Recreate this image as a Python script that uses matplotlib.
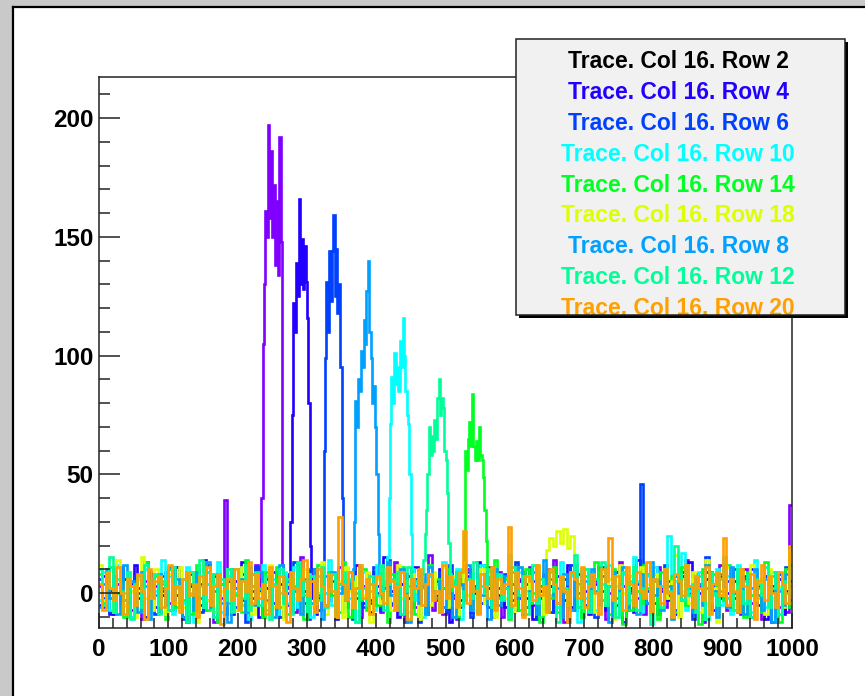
import numpy as np
import matplotlib
matplotlib.use("Agg")
import matplotlib.pyplot as plt
from matplotlib.patches import Rectangle
from matplotlib.ticker import MultipleLocator

W, H = 865, 696
NOISE_BIN = 5   # width of the baseline bins
PULSE_BIN = 2   # finer bins inside the pulse windows

labels = ["Trace. Col 16. Row 2", "Trace. Col 16. Row 4", "Trace. Col 16. Row 6",
          "Trace. Col 16. Row 10", "Trace. Col 16. Row 14", "Trace. Col 16. Row 18",
          "Trace. Col 16. Row 8", "Trace. Col 16. Row 12", "Trace. Col 16. Row 20"]
legend_colors = ["#000000", "#2200ff", "#0040ff", "#00ffff", "#00ff22",
                 "#ddff00", "#00a0ff", "#00ff99", "#ffa000"]
line_colors = ["#8000ff", "#2200ff", "#0040ff", "#00ffff", "#00ff22",
               "#ddff00", "#00a0ff", "#00ff99", "#ffa000"]

noise_row2 = [3, -6, 8, 1, -9, 4, 10, -3, 2, -7, 6, 0, -11, 5, 9, -2, 3, -8, 7, 1,
              -4, 11, -1, 6, -10, 2, 8, -5, 0, 4, -7, 9, 3, -12, 6, -2, 39, 5, -6, 2,
              10, -3, 7, -9, 1, 12, 4, -6, 2, 8, -3, 5, -1, 7, -5, 8, -8, 3, 15, -4,
              -11, 6, 2, -7, 9, 0, -3, 5, -9, 11, 1, -6, 4, 7, -2, -10, 3, 8, -4, 0,
              6, -8, 10, 2, -5, 13, -1, 4, -12, 7, 0, -6, 9, 3, -3, 16, -7, 5, 1, -9,
              4, 8, -2, -11, 6, 0, 10, -4, 3, -8, 12, 1, -6, 5, -1, 9, -10, 2, 7, -3,
              0, 6, -9, 4, 11, -5, 2, -2, 8, -7, 3, 14, -4, 1, -12, 6, 9, -1, -6, 4,
              10, -8, 2, 5, -3, 7, -11, 0, 6, -5, 13, 3, -7, 1, 9, -2, 4, -9, 8, 0,
              -4, 11, 2, -6, 5, -10, 7, 1, -3, 14, 0, -8, 6, 3, -12, 9, -1, 4, -5, 12,
              2, -7, 8, -2, 5, -9, 10, 0, -4, 6, 3, -11, 7, -3, 1, 9, -6, 4, -8, 37]
noise_row4 = [-5, 7, 2, -9, 10, 0, -3, 6, -8, 4, 12, -2, 5, -10, 1, 8, -6, 3, -1, 9,
              -7, 2, 11, -4, 6, -12, 3, 0, 8, -5, 14, -3, 1, -8, 7, 4, -2, 10, -9, 5,
              0, 13, -6, 3, 8, -1, -10, 6, 2, -4, 9, -7, 4, 1, -3, 7, -8, 2, 5, 11,
              -2, 6, -9, 0, 10, -5, 3, 8, -11, 4, -1, 7, 2, -6, 12, 0, -4, 5, -8, 9,
              3, -3, 15, -7, 1, 6, -10, 4, 8, -2, 0, 11, -5, 3, -9, 7, 2, -1, 10, -6,
              5, -12, 4, 9, -3, 1, 7, -8, 0, 13, -4, 6, 2, -10, 8, -1, 3, -6, 11, 0,
              -7, 5, 9, -2, 4, -11, 6, 1, -5, 10, 3, -8, 7, 0, -3, 12, -6, 2, 8, -4,
              1, -9, 6, 4, -2, 11, -7, 3, 0, 9, -5, -12, 5, 2, -8, 14, -1, 6, -4, 3,
              8, -6, 1, 10, -3, 5, -9, 2, 7, -1, 13, -5, 4, 0, -10, 6, 9, -7, 3, -2,
              11, 0, -6, 5, 2, -8, 7, -3, 10, 1, -5, 4, -11, 8, 3, -2, 6, -9, 1, 5]
noise_row6 = [6, -2, 9, -8, 3, 0, 11, -5, 4, -10, 7, 2, -6, 13, -1, 5, -9, 8, 1, -4,
              10, -7, 3, 6, -11, 0, 9, -3, 5, -8, 2, 12, -5, 7, -1, 4, -9, 10, 0, -6,
              3, 8, -12, 5, -2, 11, 1, -7, 6, 9, -4, 2, -10, 7, 0, -3, 13, -6, 4, 1,
              -8, 10, 5, -2, 7, -9, 3, 0, 12, -5, 6, -1, 9, -11, 2, 4, -6, 8, -3, 11,
              0, -7, 5, 14, -4, 1, 7, -9, 3, -2, 10, 6, -12, 4, -5, 8, 0, -3, 9, 2,
              -8, 12, -1, 5, -6, 3, 9, -10, 1, 7, -4, 0, 11, -7, 6, 2, -3, 8, -9, 4,
              13, -2, 1, -6, 10, 5, -11, 3, 0, 7, -8, 9, -4, 2, 6, -1, 12, -7, 4, 0,
              -5, 8, 3, -10, 11, 1, -3, 6, -6, 9, 0, -12, 5, 7, -2, 4, 46, 10, 1, -4,
              6, -9, 3, 12, -1, 5, -7, 0, 9, -3, 2, -11, 8, 4, -6, 15, -2, 3, -9, 7,
              0, 5, -4, 10, -8, 2, 6, -1, -10, 9, 3, -5, 7, 1, -12, 4, 8, -3, 11, -6]
noise_row10 = [-3, 9, 1, -7, 5, 12, -4, 0, 8, -10, 3, 6, -2, 10, -8, 4, 1, -5, 14, -1,
               7, -9, 2, 5, -4, 11, 0, -12, 6, 3, -6, 9, -1, 4, 13, -8, 2, 7, -3, 0,
               10, -5, 5, -11, 8, 1, -2, 12, -7, 3, 6, -9, 0, 9, -4, 2, 11, -6, 4, -1,
               8, -10, 3, 7, -3, 0, 14, -5, 5, 2, -8, 10, -2, 6, -12, 4, 9, -1, 1, -7,
               12, 3, -4, 8, 0, -9, 6, 2, -6, 11, -3, 5, 9, -10, 1, 7, -2, 4, -8, 13,
               0, -5, 6, 10, -11, 3, -1, 8, 2, -7, 12, -4, 5, 0, -9, 7, 3, -2, 16, -6,
               4, 9, -8, 1, 6, -3, 11, -10, 2, 5, -1, 8, -6, 13, 0, -4, 7, 3, -12, 10,
               -2, 6, 1, -7, 9, 4, -5, 12, -1, 3, -9, 8, 0, -3, 15, 5, -8, 2, 7, -4,
               11, -6, 3, 0, 24, 8, 5, -2, 17, -7, 1, 6, -4, 9, -11, 2, 4, -1, 10, -5,
               3, 7, -9, 0, 12, -3, 5, 1, -8, 14, -2, 6, -6, 4, 9, -12, 2, 8, -4, 3]
noise_row14 = [8, -4, 2, 11, -7, 0, 5, -10, 9, 3, -2, 6, -8, 13, 1, -5, 7, -1, 4, -11,
               10, 2, -6, 5, -3, 9, -9, 0, 12, -2, 6, -7, 3, 8, -12, 4, 1, -4, 10, -1,
               5, -8, 14, 0, -5, 7, 2, -10, 9, -3, 4, 11, -6, 1, -9, 6, 3, -2, 8, -11,
               0, 7, -4, 12, 2, -6, 9, -1, 5, -8, 13, 3, -10, 6, 0, -3, 10, -7, 4, 1,
               -5, 9, 2, -12, 8, -2, 5, 11, -6, 3, 0, -9, 7, 4, -4, 12, -1, 6, -8, 2,
               10, -3, 5, -10, 1, 8, 4, -6, 11, 0, -5, 7, 2, -9, 14, -2, 3, 6, -11, 9,
               1, -7, 4, 10, -4, 0, 8, -12, 5, 3, -2, 11, -8, 6, 1, -5, 9, -1, 4, -10,
               7, 2, -6, 13, 0, -3, 5, -9, 10, 3, -1, -13, 6, -7, 8, 1, -4, 12, 2, -6,
               5, -11, 9, 0, -2, 7, -8, 4, 11, -5, 3, -1, 6, -13, 10, 2, -4, 8, -9, 1,
               -3, 12, 0, -7, 6, 4, -10, 9, -1, 5, 2, -8, 13, -4, 7, 0, -12, 3, 10, -6]
noise_row18 = [12, -3, 7, 0, -8, 14, 4, -5, 9, 1, -10, 6, 15, -2, 3, -7, 10, 0, 5, -9,
               8, 2, -4, 11, -6, 3, 9, -1, -12, 6, 13, -3, 4, -8, 7, 1, -5, 10, 2, -7,
               5, 11, -1, 3, -9, 8, 0, 6, -4, 12, -6, 2, 9, -11, 4, 1, -2, 7, -8, 10,
               3, -5, 6, 0, 13, -9, 2, 8, -3, 5, -10, 11, 1, -6, 7, 4, -1, 9, -12, 3,
               6, -4, 10, 2, -7, 0, 12, -2, 5, -8, 8, 1, -11, 6, 3, -5, 9, 0, -3, 11,
               -6, 4, 7, -9, 2, 13, -1, 5, -7, 0, 10, -4, 8, 3, -10, 6, 1, -2, 9, -8,
               4, 11, -5, 0, 7, -3, 12, 2, -9, 18, 23, 20, 26, 21, 27, 19, 24, 8, 3, -6,
               10, -2, 5, -8, 1, 9, -4, 6, -11, 3, 12, 0, -5, 7, 2, -7, 11, -1, 4, -9,
               8, 3, -6, 10, -2, 5, 16, -10, 1, 7, -4, 9, 0, -8, 6, 14, -3, 2, -12, 8,
               -1, 11, 4, -7, 3, 9, -5, 0, 12, -3, 6, 1, -9, 10, -2, 5, 3, -6, 8, 18]
noise_row8 = [-6, 4, 10, -2, 7, -9, 1, 12, -4, 5, 0, -8, 9, 3, -11, 6, -1, 8, 2, -5,
              11, -3, 6, 0, -10, 7, 4, -7, 9, -2, 3, 13, -6, 1, 8, -4, 5, -12, 10, 2,
              -1, 6, -8, 11, 3, -5, 9, 0, -3, 7, -10, 4, 12, -2, 5, -7, 1, 8, -9, 6,
              2, -4, 10, -1, -11, 7, 3, 9, -6, 0, 5, -3, 11, -8, 4, 1, 8, -2, 6, -10,
              9, -5, 2, 13, -1, 4, -7, 10, 0, -12, 6, 3, -4, 8, -9, 11, 1, -2, 5, -6,
              7, 0, -10, 9, 4, -3, 12, -7, 2, 6, -1, 8, -11, 3, 10, -5, 0, 7, -8, 4,
              -2, 11, 5, -6, 1, 9, -9, 3, 14, -4, 6, -1, 2, -10, 8, 4, -7, 12, 0, -3,
              5, -8, 10, 1, -5, 7, 3, -12, 9, -2, 4, 11, -6, 0, 6, -9, 8, 2, -4, 13,
              -1, 5, -7, 9, 3, -11, 7, 0, -3, 10, 2, -8, 6, 4, -5, 12, -2, 1, -10, 8,
              3, -6, 11, 0, -4, 7, -9, 5, 2, 10, -1, -7, 6, 3, -12, 9, 1, -5, 8, -3]
noise_row12 = [10, -5, 3, 15, -8, 6, 1, -3, 9, -11, 4, 7, -6, 12, 0, -2, 8, -9, 5, 2,
               -7, 11, 3, -4, 6, -12, 9, 1, -1, 14, -6, 4, 8, -10, 2, 6, -3, 10, -8, 0,
               5, -2, 12, -7, 3, 9, -5, 1, 7, -11, 4, 0, 10, -4, 6, -9, 2, 13, -1, 5,
               -8, 7, 3, -3, 11, -6, 1, 8, -10, 4, 9, -2, 6, 0, -12, 10, 2, -5, 7, 3,
               -1, 12, -7, 4, 6, -4, 9, -9, 1, 11, -3, 5, 0, -8, 8, 3, -6, 10, 2, -1,
               7, -11, 4, 9, -5, 1, 6, -2, 13, -8, 3, 0, 10, -6, 5, 8, -3, 2, -10, 11,
               4, -1, 7, -9, 0, 12, -4, 6, 3, -7, 9, 1, -12, 5, 2, -3, 8, 16, -6, 4,
               10, -8, 1, 6, -2, 13, -5, 3, 7, -10, 0, 9, -4, 5, 11, -7, 2, -1, 8, -13,
               6, 3, -6, 10, 1, -9, 20, 8, -3, 12, -1, 4, -8, 7, 2, -11, 9, 0, -5, 6,
               15, -2, 3, -7, 10, 1, -4, 8, -10, 6, 4, -1, 11, -6, 2, 9, -9, 5, 0, 12]
noise_row20 = [4, -7, 9, 2, -3, 11, 0, -9, 6, 3, -5, 8, 1, -11, 10, -2, 5, 7, -6, 2,
               12, -4, 3, -8, 6, 9, -1, 4, -10, 7, 0, 11, -5, 3, 8, -13, 2, 6, -3, 10,
               -7, 5, 1, 13, -4, 8, -2, 4, -9, 11, 3, -6, 7, 0, -12, 9, 2, -3, 6, 14,
               -1, 5, -8, 10, 3, -5, 8, 1, -10, 32, 4, -3, 9, -6, 2, 12, -2, 6, -9, 4,
               7, 0, -4, 11, 5, -7, 3, 9, -1, -11, 6, 2, 10, -5, 4, 8, -3, 1, -8, 12,
               -2, 7, 3, -6, 9, 26, -4, 5, 1, -9, 8, 3, -2, 11, -7, 6, 0, 4, 28, -5,
               9, 2, -10, 7, 5, -3, 12, -1, 3, -8, 10, 4, -4, 7, 1, -12, 9, 6, -2, 11,
               -6, 3, 8, 0, -9, 10, 5, 23, -3, 7, 2, -7, 11, 4, -5, 9, 1, -2, 13, -8,
               6, 3, -4, 10, 0, -10, 8, 5, -1, 12, 3, -6, 7, 2, -3, 11, -9, 4, 9, -1,
               23, -5, 6, 1, -8, 10, 3, -2, 8, -11, 5, 12, -3, 7, 0, -6, 9, 4, -4, 20]

# pulses, sampled every PULSE_BIN starting at the given x
pulse_row2_start = 230
pulse_row2 = [3, 6, 40, 105, 130, 161, 150, 197, 158, 186,
              150, 172, 138, 165, 134, 192, 148, 12, 5, -3]
pulse_row4_start = 270
pulse_row4 = [2, 5, 8, 30, 75, 122, 110, 139, 125, 166,
              130, 149, 128, 146, 131, 116, 80, 20, 4, -2]
pulse_row6_start = 320
pulse_row6 = [3, 10, 60, 99, 131, 110, 144, 123, 144, 159,
              125, 145, 118, 130, 95, 40, 8, 2, -4, 5]
pulse_row8_start = 360
pulse_row8 = [2, 4, 6, 10, 30, 81, 70, 90, 85, 102,
              95, 115, 105, 127, 140, 110, 99, 80, 87, 70,
              50, 25, 8, 3, -2]
pulse_row10_start = 410
pulse_row10 = [3, 5, 9, 15, 40, 71, 91, 80, 101, 88,
               95, 85, 106, 95, 116, 100, 85, 75, 71, 50,
               25, 10, 5, 1, -3]
pulse_row12_start = 460
pulse_row12 = [3, 6, 2, 8, 14, 25, 35, 50, 70, 58,
               66, 60, 73, 65, 82, 90, 75, 82, 78, 60,
               56, 42, 21, 8, 3]
pulse_row14_start = 520
pulse_row14 = [5, 2, 10, 25, 60, 52, 65, 72, 62, 84,
               62, 56, 64, 56, 70, 58, 56, 49, 35, 22,
               10, 4, 7, -2, 3]


def build_trace(noise, start=None, pulse=None):
    noise = list(noise)
    if pulse is None:
        return np.arange(len(noise) + 1) * NOISE_BIN, np.array(noise, float)
    stop = start + PULSE_BIN * len(pulse)
    i0, i1 = start // NOISE_BIN, stop // NOISE_BIN
    vals = np.array(noise[:i0] + list(pulse) + noise[i1:], float)
    edges = np.concatenate([np.arange(i0) * NOISE_BIN,
                            start + np.arange(len(pulse)) * PULSE_BIN,
                            stop + np.arange(len(noise) - i1 + 1) * NOISE_BIN])
    return edges, vals


traces = [build_trace(noise_row2, pulse_row2_start, pulse_row2),
          build_trace(noise_row4, pulse_row4_start, pulse_row4),
          build_trace(noise_row6, pulse_row6_start, pulse_row6),
          build_trace(noise_row10, pulse_row10_start, pulse_row10),
          build_trace(noise_row14, pulse_row14_start, pulse_row14),
          build_trace(noise_row18),
          build_trace(noise_row8, pulse_row8_start, pulse_row8),
          build_trace(noise_row12, pulse_row12_start, pulse_row12),
          build_trace(noise_row20)]

plt.rcParams['font.family'] = ['Liberation Sans', 'DejaVu Sans']
plt.rcParams['font.weight'] = 'bold'

fig = plt.figure(figsize=(W / 100, H / 100), dpi=100, facecolor="#c9c9c9")


def fx(px):
    return px / W


def fy(py):
    return 1 - py / H


# white canvas with black border on the left and top
fig.add_artist(Rectangle((fx(14), 0), 1, fy(8), transform=fig.transFigure,
                         facecolor="white", edgecolor="none", zorder=-5))
fig.add_artist(plt.Line2D([fx(13), fx(13)], [0, fy(7)], transform=fig.transFigure,
                          color="black", lw=1.6, zorder=-4))
fig.add_artist(plt.Line2D([fx(13), 1], [fy(7), fy(7)], transform=fig.transFigure,
                          color="black", lw=1.6, zorder=-4))

ax = fig.add_axes([fx(99), fy(628), fx(792) - fx(99), fy(77) - fy(628)])
ax.set_facecolor("white")

for (edges, vals), c in zip(traces, line_colors):
    ax.stairs(vals, edges, color=c, lw=1.9, baseline=None)

ax.set_xlim(0, 1000)
ax.set_ylim(-14.7, 217.3)
ax.xaxis.set_major_locator(MultipleLocator(100))
ax.xaxis.set_minor_locator(MultipleLocator(20))
ax.yaxis.set_major_locator(MultipleLocator(50))
ax.yaxis.set_minor_locator(MultipleLocator(10))
ax.tick_params(axis="both", which="both", direction="in", width=1.1, color="#222222",
               labelsize=17.5, top=False, right=False)
ax.tick_params(axis="y", which="major", length=15, pad=4)
ax.tick_params(axis="y", which="minor", length=8)
ax.tick_params(axis="x", which="major", length=11, pad=7)
ax.tick_params(axis="x", which="minor", length=7)
for lab in ax.get_xticklabels() + ax.get_yticklabels():
    lab.set_fontweight("bold")
for sp in ax.spines.values():
    sp.set_linewidth(1.1)
    sp.set_color("#222222")
    sp.set_zorder(5)

# legend box drawn by hand (ROOT style, with shadow)
bx0, by0, bx1, by1 = 516, 39, 845, 315
fig.add_artist(Rectangle((fx(bx0 + 3), fy(by1 + 3)), fx(bx1 - bx0), (by1 - by0) / H,
                         transform=fig.transFigure, facecolor="black",
                         edgecolor="none", zorder=2))
fig.add_artist(Rectangle((fx(bx0), fy(by1)), fx(bx1 - bx0), (by1 - by0) / H,
                         transform=fig.transFigure, facecolor="#f1f1f1",
                         edgecolor="none", zorder=2.5))
for k, (lab, c) in enumerate(zip(labels, legend_colors)):
    fig.text(fx(678), fy(68.5 + 30.8 * k), lab, color=c, fontsize=16.5,
             fontweight="bold", ha="center", va="baseline", zorder=3)
fig.add_artist(Rectangle((fx(bx0), fy(by1)), fx(bx1 - bx0), (by1 - by0) / H,
                         transform=fig.transFigure, facecolor="none",
                         edgecolor="#222222", lw=1.1, zorder=4))

fig.savefig("out.png", dpi=100, facecolor=fig.get_facecolor())
